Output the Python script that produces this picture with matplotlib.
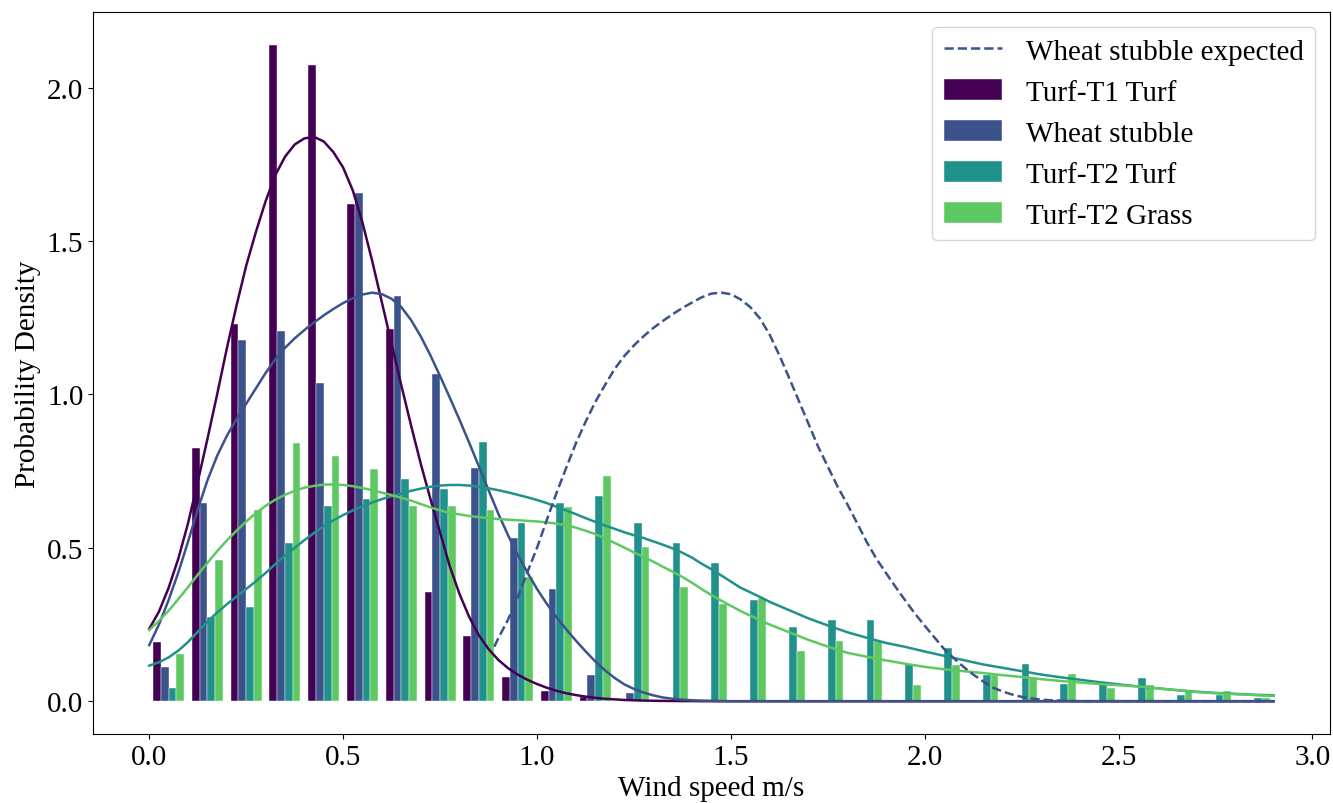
import numpy as np
import matplotlib
matplotlib.use("Agg")
from matplotlib import pyplot as plt
from matplotlib.patches import Patch
from matplotlib.lines import Line2D

plt.rcParams['font.family'] = ['Liberation Serif', 'DejaVu Serif']
plt.rcParams['font.size'] = 21

# histogram densities, 29 bins of 0.1 m/s between 0 and 2.9
t1_turf = [0.193, 0.826, 1.231, 2.140, 2.075, 1.621, 1.215, 0.357, 0.211, 0.080,
           0.032, 0.015, 0.0, 0.0, 0.0, 0.0, 0.0, 0.0, 0.0, 0.0,
           0.0, 0.0, 0.0, 0.0, 0.0, 0.0, 0.0, 0.0, 0.0]
wheat = [0.111, 0.645, 1.179, 1.207, 1.039, 1.657, 1.320, 1.066, 0.759, 0.533,
         0.366, 0.084, 0.028, 0.0, 0.0, 0.0, 0.0, 0.0, 0.0, 0.0,
         0.0, 0.0, 0.0, 0.0, 0.0, 0.0, 0.0, 0.0, 0.0]
t2_turf = [0.042, 0.274, 0.306, 0.515, 0.636, 0.658, 0.723, 0.691, 0.846, 0.581,
           0.647, 0.669, 0.581, 0.515, 0.450, 0.329, 0.241, 0.264, 0.264, 0.121,
           0.175, 0.086, 0.121, 0.055, 0.059, 0.077, 0.021, 0.021, 0.010]
t2_grass = [0.153, 0.460, 0.623, 0.843, 0.799, 0.756, 0.636, 0.636, 0.623, 0.404,
            0.634, 0.734, 0.504, 0.371, 0.317, 0.338, 0.164, 0.197, 0.197, 0.054,
            0.118, 0.086, 0.077, 0.088, 0.042, 0.053, 0.034, 0.032, 0.012]

labels = ['Turf-T1 Turf', 'Wheat stubble', 'Turf-T2 Turf', 'Turf-T2 Grass']
colors = ['#440154', '#3b528b', '#21918c', '#5ec962']

# kde curves (finer steps where they bend)
kde_x = [0.000, 0.025, 0.050, 0.075, 0.100, 0.125, 0.150, 0.175, 0.200, 0.225,
         0.250, 0.275, 0.300, 0.325, 0.350, 0.375, 0.400, 0.425, 0.450, 0.475,
         0.500, 0.525, 0.550, 0.575, 0.600, 0.625, 0.650, 0.675, 0.700, 0.725,
         0.750, 0.775, 0.800, 0.825, 0.850, 0.875, 0.900, 0.925, 0.950, 0.975,
         1.000, 1.025, 1.050, 1.075, 1.100, 1.125, 1.150, 1.175, 1.200, 1.225,
         1.250, 1.275, 1.300, 1.325, 1.350, 1.375, 1.400, 1.425, 1.450, 1.475,
         1.500, 1.525, 1.550, 1.575, 1.600,
         1.65, 1.70, 1.75, 1.80, 1.85, 1.90, 1.95, 2.00, 2.05, 2.10,
         2.15, 2.20, 2.25, 2.30, 2.35, 2.40, 2.45, 2.50, 2.55, 2.60,
         2.65, 2.70, 2.75, 2.80, 2.85, 2.90]
kde_t1_turf = [0.236, 0.292, 0.37, 0.465, 0.58, 0.715, 0.855, 1.00, 1.15, 1.29,
               1.42, 1.53, 1.63, 1.715, 1.775, 1.815, 1.835, 1.84, 1.825, 1.79,
               1.74, 1.665, 1.56, 1.435, 1.30, 1.165, 1.03, 0.90, 0.775, 0.66,
               0.55, 0.44, 0.35, 0.275, 0.215, 0.17, 0.135, 0.108, 0.087, 0.07,
               0.056, 0.044, 0.034, 0.026, 0.02, 0.015, 0.011, 0.008, 0.006, 0.004,
               0.003, 0.002, 0.0015, 0.001, 0.0007, 0.0005, 0.0003, 0.0, 0.0, 0.0,
               0.0, 0.0, 0.0, 0.0, 0.0,
               0.0, 0.0, 0.0, 0.0, 0.0, 0.0, 0.0, 0.0, 0.0, 0.0,
               0.0, 0.0, 0.0, 0.0, 0.0, 0.0, 0.0, 0.0, 0.0, 0.0,
               0.0, 0.0, 0.0, 0.0, 0.0, 0.0]
kde_wheat = [0.183, 0.25, 0.33, 0.42, 0.52, 0.625, 0.72, 0.80, 0.865, 0.92,
             0.97, 1.02, 1.07, 1.115, 1.152, 1.183, 1.21, 1.235, 1.258, 1.279,
             1.298, 1.314, 1.326, 1.332, 1.327, 1.312, 1.285, 1.243, 1.19, 1.128,
             1.06, 0.99, 0.918, 0.843, 0.766, 0.688, 0.612, 0.542, 0.478, 0.42,
             0.366, 0.318, 0.274, 0.235, 0.198, 0.163, 0.13, 0.101, 0.076, 0.055,
             0.04, 0.028, 0.019, 0.012, 0.008, 0.005, 0.003, 0.002, 0.001, 0.0005,
             0.0, 0.0, 0.0, 0.0, 0.0,
             0.0, 0.0, 0.0, 0.0, 0.0, 0.0, 0.0, 0.0, 0.0, 0.0,
             0.0, 0.0, 0.0, 0.0, 0.0, 0.0, 0.0, 0.0, 0.0, 0.0,
             0.0, 0.0, 0.0, 0.0, 0.0, 0.0]
kde_t2_turf = [0.116, 0.127, 0.143, 0.165, 0.193, 0.226, 0.259, 0.289, 0.316, 0.341,
               0.366, 0.391, 0.418, 0.447, 0.475, 0.50, 0.525, 0.549, 0.571, 0.59,
               0.607, 0.622, 0.636, 0.648, 0.659, 0.668, 0.677, 0.686, 0.693, 0.699,
               0.703, 0.705, 0.705, 0.703, 0.699, 0.694, 0.688, 0.681, 0.673, 0.665,
               0.656, 0.646, 0.634, 0.622, 0.61, 0.597, 0.585, 0.573, 0.562, 0.551,
               0.541, 0.532, 0.521, 0.51, 0.498, 0.484, 0.468, 0.448, 0.43, 0.41,
               0.39, 0.37, 0.355, 0.34, 0.324,
               0.297, 0.27, 0.247, 0.225, 0.207, 0.19, 0.177, 0.162, 0.148, 0.134,
               0.12, 0.109, 0.098, 0.087, 0.078, 0.07, 0.062, 0.055, 0.048, 0.042,
               0.036, 0.031, 0.027, 0.024, 0.021, 0.019]
kde_t2_grass = [0.232, 0.262, 0.295, 0.333, 0.372, 0.412, 0.451, 0.489, 0.524, 0.556,
                0.586, 0.613, 0.637, 0.657, 0.673, 0.686, 0.696, 0.702, 0.706, 0.707,
                0.705, 0.701, 0.695, 0.688, 0.68, 0.672, 0.663, 0.654, 0.643, 0.632,
                0.622, 0.614, 0.609, 0.604, 0.60, 0.597, 0.594, 0.592, 0.59, 0.588,
                0.586, 0.583, 0.579, 0.574, 0.566, 0.556, 0.545, 0.531, 0.516, 0.501,
                0.485, 0.47, 0.455, 0.438, 0.422, 0.405, 0.386, 0.365, 0.346, 0.328,
                0.311, 0.294, 0.279, 0.264, 0.25,
                0.225, 0.20, 0.178, 0.158, 0.145, 0.133, 0.122, 0.112, 0.104, 0.098,
                0.092, 0.085, 0.079, 0.072, 0.066, 0.061, 0.056, 0.052, 0.048, 0.042,
                0.036, 0.03, 0.026, 0.023, 0.02, 0.017]

# expected wheat stubble curve (dashed), starts at 0.89 m/s
expected_x = [0.890, 0.900, 0.925, 0.950, 0.975, 1.000, 1.025, 1.050, 1.075, 1.100,
              1.125, 1.150, 1.175, 1.200, 1.225, 1.250, 1.275, 1.300, 1.325, 1.350,
              1.375, 1.400, 1.425, 1.450, 1.475, 1.500, 1.525, 1.550, 1.575, 1.600,
              1.625, 1.650, 1.675, 1.700, 1.725, 1.750, 1.775, 1.800, 1.825, 1.850,
              1.875, 1.900, 1.925, 1.950, 1.975, 2.000, 2.025, 2.050, 2.075, 2.100,
              2.125, 2.150, 2.175, 2.200, 2.225, 2.250, 2.275, 2.300, 2.325, 2.350,
              2.375, 2.400, 2.45, 2.50, 2.55, 2.60, 2.65, 2.70, 2.75, 2.80,
              2.85, 2.90]
expected_y = [0.178, 0.205, 0.265, 0.338, 0.42, 0.50, 0.59, 0.678, 0.76, 0.84,
              0.91, 0.975, 1.03, 1.083, 1.125, 1.16, 1.19, 1.217, 1.24, 1.262,
              1.282, 1.30, 1.317, 1.329, 1.332, 1.327, 1.31, 1.285, 1.248, 1.195,
              1.128, 1.055, 0.98, 0.905, 0.83, 0.765, 0.70, 0.643, 0.582, 0.52,
              0.465, 0.418, 0.372, 0.328, 0.285, 0.246, 0.208, 0.17, 0.14, 0.112,
              0.087, 0.065, 0.045, 0.032, 0.022, 0.014, 0.009, 0.005, 0.003, 0.002,
              0.001, 0.0, 0.0, 0.0, 0.0, 0.0, 0.0, 0.0, 0.0, 0.0,
              0.0, 0.0]

bin_edges = np.linspace(0, 2.9, 30)
bin_centers = (bin_edges[:-1] + bin_edges[1:]) / 2

fig = plt.figure(figsize=(13.33, 8.04), dpi=100)
ax = fig.add_subplot(111)
fig.subplots_adjust(left=0.0698, right=0.9977, top=0.9838, bottom=0.0858)

densities = [t1_turf, wheat, t2_turf, t2_grass]
ax.hist([bin_centers] * 4, bins=bin_edges, weights=densities, color=colors,
        label=labels, edgecolor='white', linewidth=0.3)

kdes = [kde_t1_turf, kde_wheat, kde_t2_turf, kde_t2_grass]
for kde, c in zip(kdes, colors):
    ax.plot(kde_x, kde, color=c, linewidth=1.8)

ax.plot(expected_x, expected_y, color=colors[1], linestyle='--', linewidth=1.8)

ax.set_ylim(-0.107, 2.247)
ax.set_yticks([0.0, 0.5, 1.0, 1.5, 2.0])
ax.set_xlabel('Wind speed m/s')
ax.set_ylabel('Probability Density')

handles = [Line2D([], [], color=colors[1], linestyle='--', linewidth=1.8)]
handles += [Patch(facecolor=c, edgecolor='white', linewidth=0.3) for c in colors]
ax.legend(handles, ['Wheat stubble expected'] + labels, loc='upper right')

plt.savefig('out.png', dpi=100)
